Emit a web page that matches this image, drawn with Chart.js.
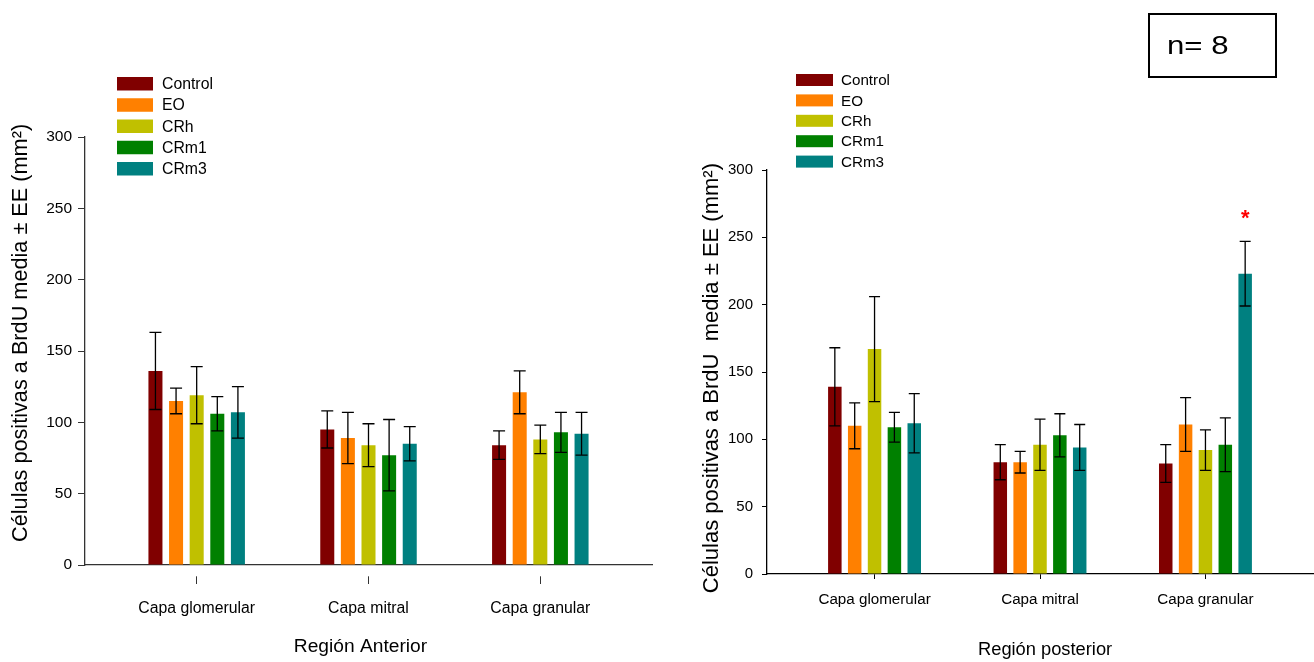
<!DOCTYPE html>
<html lang="es">
<head>
    <meta charset="UTF-8">
    <title>BrdU</title>
    <script src="https://cdn.jsdelivr.net/npm/chart.js@4.4.1/dist/chart.umd.min.js"></script>
    <style>
        body { margin: 0; background: #fff; font-family: "Liberation Sans", Arial, sans-serif; }
        #wrap { position: relative; width: 1314px; height: 662px; }
        #anterior { position: absolute; left: 0; top: 0; }
        #posterior { position: absolute; left: 660px; top: 0; }
        .nbox { position: absolute; left: 1148px; top: 13px; width: 129px; height: 65px;
                border: 2px solid #000; box-sizing: border-box; }
        .nbox span { position: absolute; left: 17px; top: 0; line-height: 61px; font-size: 26px;
                     transform: scaleX(1.2); transform-origin: left center; }
    </style>
</head>
<body>
<div id="wrap">
    <canvas id="anterior" width="660" height="662"></canvas>
    <canvas id="posterior" width="654" height="662"></canvas>
    <div class="nbox"><span>n= 8</span></div>
</div>

<script>
    const groups = ['Control', 'EO', 'CRh', 'CRm1', 'CRm3'];
    const colors = ['#800000', '#ff8000', '#c0c000', '#008000', '#008080'];
    const layers = ['Capa glomerular', 'Capa mitral', 'Capa granular'];

    // one row per group, one value per layer
    const antMean = [[136, 95, 84], [115, 89, 121], [119, 84, 88], [106, 77, 93], [107, 85, 92]];
    const antErr = [[27, 13, 10], [9, 18, 15], [20, 15, 10], [12, 25, 14], [18, 12, 15]];

    const postMean = [[139, 83, 82], [110, 83, 111], [167, 96, 92], [109, 103, 96], [112, 94, 223]];
    const postErr = [[29, 13, 14], [17, 8, 20], [39, 19, 15], [11, 16, 20], [22, 17, 24]];
    const postStars = [[0, 0, 0], [0, 0, 0], [0, 0, 0], [0, 0, 0], [0, 0, 1]];

    Chart.defaults.font.family = '"Liberation Sans", Arial, sans-serif';

    // mean +/- EE whiskers, plus significance star
    const errorBars = {
        id: 'errorBars',
        afterDatasetsDraw(chart, args, opts) {
            const ctx = chart.ctx, y = chart.scales.y;
            ctx.save();
            ctx.strokeStyle = '#000';
            ctx.lineWidth = 1.3;
            chart.data.datasets.forEach((ds, i) => {
                chart.getDatasetMeta(i).data.forEach((bar, j) => {
                    const v = ds.data[j].y, e = ds.err[j], w = opts.cap / 2;
                    const yt = y.getPixelForValue(v + e), yb = y.getPixelForValue(v - e);
                    ctx.beginPath();
                    ctx.moveTo(bar.x, yt); ctx.lineTo(bar.x, yb);
                    ctx.moveTo(bar.x - w, yt); ctx.lineTo(bar.x + w, yt);
                    ctx.moveTo(bar.x - w, yb); ctx.lineTo(bar.x + w, yb);
                    ctx.stroke();
                    if (ds.stars && ds.stars[j]) {
                        ctx.fillStyle = '#ff0000';
                        ctx.font = 'bold 22px "Liberation Sans"';
                        ctx.textAlign = 'center';
                        ctx.textBaseline = 'alphabetic';
                        ctx.fillText('*', bar.x, yt - 16);
                    }
                });
            });
            ctx.restore();
        }
    };

    // legend drawn as a plain column of boxes
    const boxLegend = {
        id: 'boxLegend',
        afterDraw(chart, args, o) {
            const ctx = chart.ctx;
            ctx.save();
            ctx.font = o.font;
            ctx.textBaseline = 'middle';
            ctx.textAlign = 'left';
            chart.data.datasets.forEach((ds, i) => {
                const top = o.y + i * o.row;
                ctx.fillStyle = ds.backgroundColor;
                ctx.fillRect(o.x, top, o.w, o.h);
                ctx.fillStyle = '#000';
                ctx.fillText(ds.label, o.x + o.tx, top + o.h / 2 + 1);
            });
            ctx.restore();
        }
    };

    function build(id, means, errs, stars, c) {
        return new Chart(document.getElementById(id), {
            type: 'bar',
            data: {
                datasets: groups.map((g, i) => ({
                    label: g,
                    backgroundColor: colors[i],
                    data: means[i].map((v, k) => ({ x: k, y: v })),
                    err: errs[i],
                    stars: stars ? stars[i] : null,
                    categoryPercentage: 0.6,
                    barPercentage: 0.68
                }))
            },
            options: {
                responsive: false,
                animation: false,
                layout: { padding: c.pad },
                plugins: {
                    legend: { display: false },
                    tooltip: { enabled: false },
                    boxLegend: c.legend,
                    errorBars: { cap: c.cap }
                },
                scales: {
                    x: {
                        type: 'linear', min: -0.65, max: 2.65, offset: false,
                        afterBuildTicks: s => { s.ticks = layers.map((_, k) => ({ value: k })); },
                        afterFit: s => { s.height = c.xh; },
                        grid: { display: true, offset: false, drawOnChartArea: false, tickLength: c.xtick,
                                tickBorderDash: c.xdash, color: c.axis, tickColor: c.axis },
                        border: { display: true, color: c.axis, width: 1.3 },
                        ticks: { callback: v => layers[v], autoSkip: false, maxRotation: 0,
                                 padding: c.xpad, color: '#000', font: { size: c.tickFont } },
                        title: { display: true, text: c.xTitle, color: '#000', font: { size: c.xTitleFont },
                                 padding: { top: 0, bottom: c.xTitlePad } }
                    },
                    y: {
                        min: 0, max: 300,
                        afterFit: s => { s.width = c.yw; },
                        ticks: { stepSize: 50, padding: c.ypad, color: '#000', font: { size: c.yFont } },
                        grid: { display: true, drawOnChartArea: false, tickLength: c.ytick, color: c.axis },
                        border: { display: true, color: c.axis, width: 1.3 },
                        title: { display: true, text: c.yTitle, color: '#000', font: { size: c.yTitleFont },
                                 padding: { top: c.yTitlePad, bottom: 0 } }
                    }
                }
            },
            plugins: [errorBars, boxLegend]
        });
    }

    // spaces nudge the titles off-centre like the original
    build('anterior', antMean, antErr, null, {
        pad: { top: 137, right: 8, bottom: 0, left: 0 },
        xh: 97, xtick: 19, xdash: [0, 11, 8], xpad: 15, tickFont: 15.8,
        xTitle: 'Región Anterior   ', xTitleFont: 19.2, xTitlePad: 3.6,
        yw: 85, ytick: 7, ypad: 6, yFont: 15.5,
        yTitle: '      Células positivas a BrdU media ± EE (mm²)', yTitleFont: 21.7, yTitlePad: 8.4,
        axis: '#333', cap: 12,
        legend: { x: 117, y: 77, row: 21.25, w: 36, h: 13.5, tx: 45, font: '15.8px "Liberation Sans"' }
    });

    build('posterior', postMean, postErr, postStars, {
        pad: { top: 170, right: 1, bottom: 0, left: 0 },
        xh: 88, xtick: 5, xdash: [], xpad: 12, tickFont: 15.2,
        xTitle: '  Región posterior', xTitleFont: 18.3, xTitlePad: 1,
        yw: 107, ytick: 5, ypad: 9, yFont: 15,
        yTitle: 'Células positivas a BrdU  media ± EE (mm²)  ', yTitleFont: 22, yTitlePad: 38.4,
        axis: '#000', cap: 11,
        legend: { x: 136, y: 74, row: 20.4, w: 37, h: 12, tx: 45, font: '15.2px "Liberation Sans"' }
    });
</script>
</body>
</html>
